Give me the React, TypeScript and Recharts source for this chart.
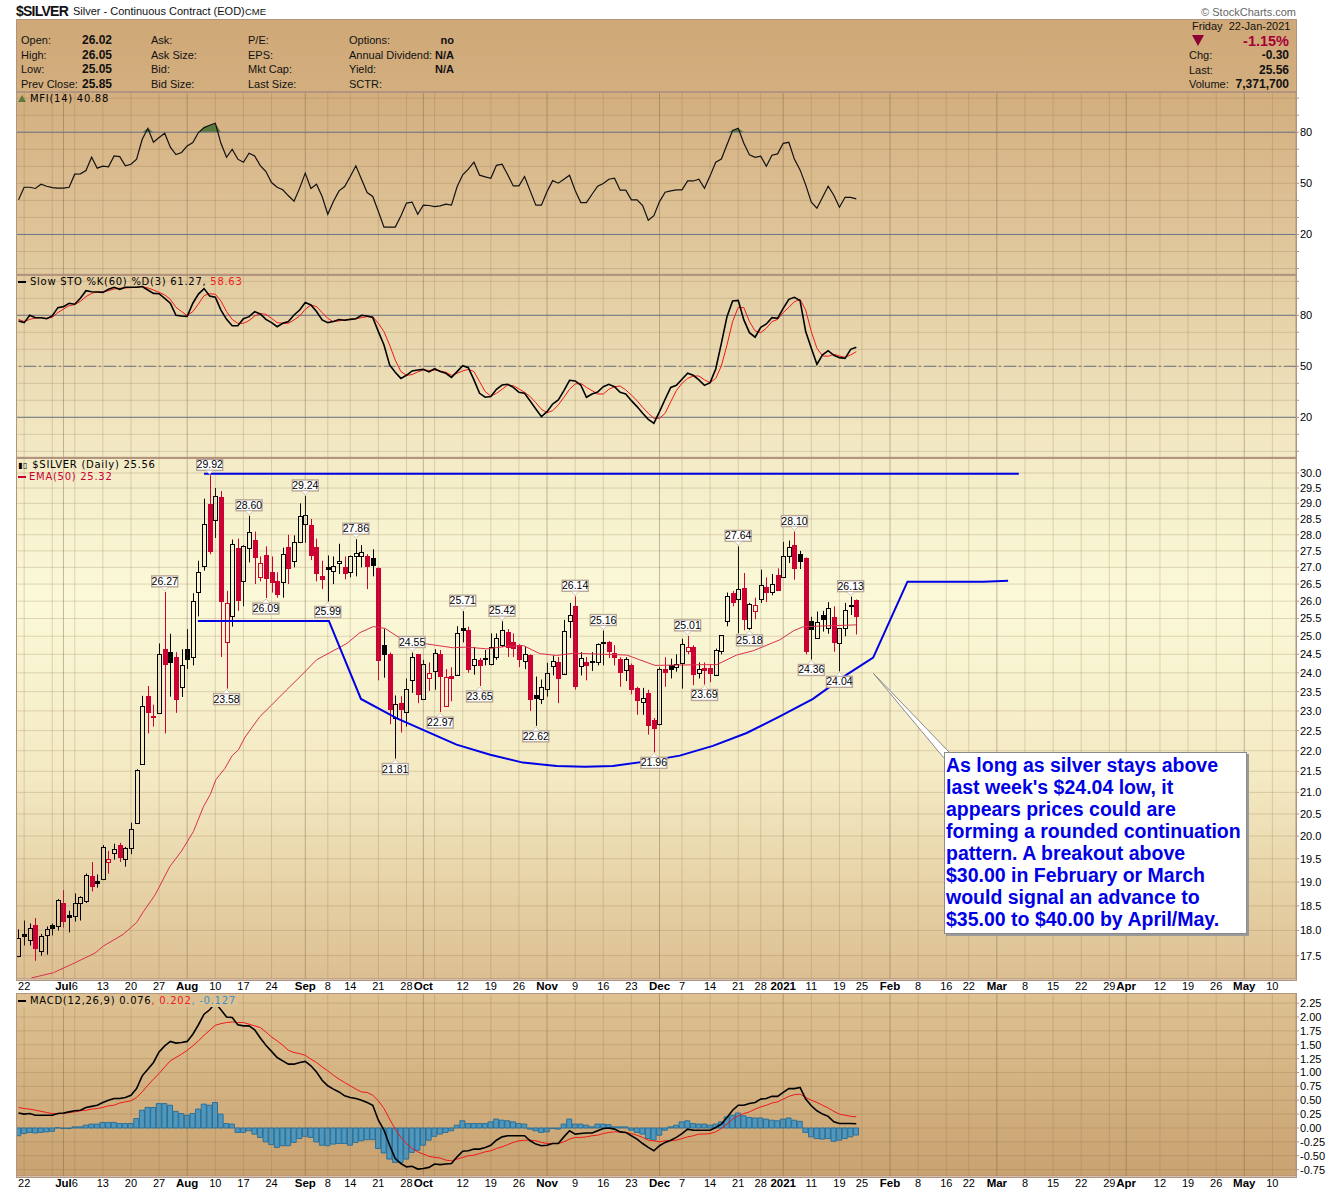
import { Bar, CartesianGrid, ComposedChart, Area, Line, ReferenceDot, ReferenceLine, XAxis, YAxis } from 'recharts'

const SANS = '"Liberation Sans", Arial, sans-serif'
const VERD = '"DejaVu Sans", Verdana, sans-serif'

// daily candles, one per trading day from 19-Jun-2020
const opens = [
  17.5, 17.93, 17.8, 18.1, 17.6, 17.9, 18.1, 18.08, 18.56, 18.32,
  18.3, 18.56, 18.6, 19.12, 19.02, 19.06, 19.42, 19.63, 19.8, 19.5,
  19.74, 20.3, 21.68, 23.38, 22.88, 22.94, 24.66, 24.56, 24.43, 23.62,
  24.64, 24.43, 26.27, 27.05, 28.98, 28.46, 29.2, 24.83, 25.56, 27.6,
  26.6, 27.6, 27.85, 26.7, 27.36, 26.85, 26.6, 26.55, 27.62, 27.2,
  27.77, 28.35, 28.3, 27.62, 26.73, 27.0, 26.9, 27.13, 27.0, 26.85,
  27.33, 27.33, 27.33, 27.27, 26.98, 24.77, 24.5, 22.82, 23.2, 22.96,
  23.8, 24.5, 23.32, 23.85, 24.05, 24.5, 23.13, 23.92, 23.95, 25.22,
  25.17, 24.2, 24.35, 24.4, 24.25, 24.43, 24.75, 25.12, 24.83, 24.75,
  24.32, 24.47, 23.42, 23.32, 23.58, 24.17, 24.3, 23.98, 25.43, 25.85,
  24.17, 24.3, 24.33, 24.3, 24.85, 24.85, 24.55, 24.37, 24.07, 24.22,
  23.6, 23.22, 23.46, 22.76, 22.67, 24.1, 24.2, 24.15, 24.27, 24.6,
  24.7, 24.0, 24.12, 24.13, 23.95, 24.6, 25.43, 26.23, 26.05, 26.38,
  25.22, 25.72, 26.07, 26.4, 26.28, 26.77, 26.7, 27.33, 27.68, 27.4,
  27.27, 25.43, 24.95, 25.6, 25.22, 25.55, 24.8, 25.22, 25.9, 26.02,
]
const closes = [
  17.85, 17.88, 18.05, 17.65, 17.88, 18.02, 18.05, 18.62, 18.2, 18.28,
  18.56, 18.68, 19.14, 18.92, 18.98, 19.76, 19.5, 19.72, 19.53, 19.74,
  20.15, 21.53, 23.13, 22.96, 22.84, 24.5, 24.25, 24.28, 23.31, 24.2,
  24.38, 26.0, 26.85, 28.35, 27.5, 29.23, 26.0, 25.94, 27.7, 26.03,
  27.65, 28.08, 27.3, 27.13, 26.67, 26.55, 26.2, 27.4, 26.98, 27.77,
  28.6, 28.62, 27.36, 26.82, 26.64, 26.95, 27.03, 27.2, 26.82, 27.33,
  27.45, 27.47, 27.03, 27.07, 24.35, 24.5, 23.05, 23.17, 23.05, 23.56,
  24.42, 23.45, 24.25, 24.0, 24.55, 23.92, 23.9, 23.85, 25.1, 25.17,
  24.1, 24.38, 24.2, 24.36, 24.7, 24.95, 25.17, 24.7, 24.68, 24.38,
  24.5, 23.32, 23.34, 23.63, 24.0, 24.32, 23.85, 25.15, 25.6, 23.65,
  24.4, 24.22, 24.3, 24.78, 24.8, 24.6, 24.42, 24.02, 24.37, 23.58,
  23.28, 23.33, 22.65, 22.57, 24.1, 24.03, 24.1, 24.25, 24.78, 24.7,
  23.97, 24.1, 24.07, 24.0, 24.62, 25.03, 26.15, 25.97, 26.35, 25.48,
  25.92, 25.9, 26.48, 26.28, 26.5, 26.33, 27.35, 27.62, 26.98, 27.2,
  24.6, 25.2, 25.4, 25.5, 25.8, 24.83, 25.22, 25.75, 25.85, 25.56,
]
const highs = [
  18.02, 18.2, 18.14, 18.25, 17.93, 18.08, 18.14, 18.64, 18.83, 18.4,
  18.76, 18.7, 19.18, 19.43, 19.16, 19.8, 19.67, 19.83, 19.85, 19.76,
  20.3, 21.55, 23.39, 23.65, 23.16, 24.8, 26.27, 25.07, 24.56, 24.64,
  25.2, 26.23, 27.2, 29.15, 29.92, 29.5, 29.4, 26.3, 27.85, 27.88,
  27.68, 28.6, 28.1, 27.33, 27.64, 27.33, 26.85, 27.6, 28.0, 27.98,
  29.0, 29.24, 28.5, 27.88, 27.2, 27.36, 27.33, 27.72, 27.33, 27.36,
  27.86, 27.68, 27.4, 27.55, 27.0, 25.2, 24.55, 23.4, 23.38, 23.85,
  24.55, 24.5, 24.35, 24.28, 24.64, 24.62, 24.1, 24.15, 25.28, 25.71,
  25.27, 24.7, 24.4, 24.62, 25.08, 25.08, 25.42, 25.2, 25.08, 24.78,
  24.7, 24.5, 23.9, 23.82, 24.27, 24.47, 24.43, 25.46, 25.95, 26.14,
  24.56, 24.43, 24.56, 24.8, 25.16, 24.87, 24.75, 24.42, 24.42, 24.25,
  23.63, 23.6, 23.55, 22.82, 24.15, 24.42, 24.38, 24.5, 24.93, 25.01,
  24.75, 24.28, 24.28, 24.22, 24.66, 25.03, 26.25, 26.3, 27.64, 26.83,
  25.95, 26.1, 26.93, 26.7, 26.8, 26.97, 27.78, 27.82, 28.1, 27.5,
  27.3, 25.55, 25.7, 25.72, 25.97, 25.85, 25.23, 25.95, 26.13, 26.05,
]
const lows = [
  17.47, 17.7, 17.7, 17.4, 17.5, 17.52, 17.9, 18.0, 18.06, 17.96,
  18.18, 18.2, 18.56, 18.8, 18.88, 19.04, 19.18, 19.48, 19.43, 19.33,
  19.6, 20.28, 21.66, 22.43, 22.6, 22.92, 22.43, 23.37, 22.95, 23.36,
  24.1, 24.2, 25.56, 26.9, 27.4, 27.9, 24.43, 23.58, 25.27, 25.72,
  25.85, 27.15, 26.5, 26.58, 26.09, 26.25, 26.1, 26.1, 26.5, 27.0,
  27.74, 27.75, 27.22, 26.58, 26.35, 25.99, 26.5, 26.8, 26.64, 26.7,
  26.73, 27.0, 26.35, 26.73, 23.8, 23.87, 22.66, 21.81, 22.45, 22.6,
  23.47, 23.2, 23.3, 23.52, 23.55, 22.97, 23.13, 23.25, 23.95, 24.83,
  24.0, 23.95, 23.65, 24.2, 24.2, 24.35, 24.7, 24.43, 24.43, 24.15,
  24.1, 23.0, 22.62, 23.18, 23.37, 23.93, 23.2, 23.98, 24.95, 23.55,
  23.93, 23.8, 24.05, 24.2, 24.2, 24.4, 24.2, 23.63, 23.78, 23.43,
  22.9, 22.9, 22.4, 21.96, 22.63, 23.63, 23.85, 24.03, 23.58, 24.5,
  23.67, 23.85, 23.69, 23.75, 23.95, 24.5, 25.28, 25.85, 25.08, 25.17,
  25.18, 25.48, 25.95, 25.97, 26.17, 26.32, 26.68, 27.13, 26.63, 26.95,
  24.5, 24.36, 24.95, 25.13, 25.07, 24.57, 24.04, 25.0, 25.6, 25.05,
]

const mfi = [
  40.3, 47.7, 47.7, 47.0, 49.5, 48.3, 47.5, 47.2, 47.2, 47.7,
  55.4, 55.6, 57.5, 65.3, 58.9, 60.1, 59.7, 66.1, 65.7, 60.3,
  61.2, 64.2, 75.9, 82.3, 74.1, 76.9, 79.4, 71.2, 66.9, 68.1,
  72.0, 73.9, 79.8, 82.7, 84.1, 85.3, 73.5, 65.3, 70.0, 64.2,
  62.4, 67.7, 66.1, 60.4, 56.9, 50.5, 47.7, 46.2, 42.7, 39.5,
  47.2, 56.0, 47.0, 49.5, 42.3, 31.9, 39.3, 45.6, 48.1, 54.0,
  60.3, 52.4, 44.6, 42.3, 33.5, 24.3, 24.3, 24.3, 30.9, 38.4,
  39.0, 31.9, 37.2, 37.0, 36.4, 36.8, 37.8, 37.2, 48.0, 55.0,
  58.3, 62.4, 54.8, 53.8, 53.0, 60.6, 61.2, 55.0, 48.5, 48.5,
  54.0, 45.6, 37.2, 37.2, 45.2, 51.6, 50.1, 52.4, 54.8, 45.8,
  38.7, 38.7, 43.6, 48.3, 49.9, 52.4, 53.0, 46.0, 46.0, 40.3,
  40.3, 37.0, 28.4, 31.0, 39.3, 44.8, 45.6, 46.2, 46.2, 51.4,
  51.4, 52.4, 47.1, 54.4, 62.4, 64.3, 72.6, 81.0, 82.3, 73.5,
  66.7, 65.3, 65.9, 60.0, 66.5, 67.3, 73.5, 74.1, 64.1, 57.9,
  49.1, 38.9, 35.4, 41.8, 48.3, 43.0, 36.0, 41.8, 41.8, 40.88,
]
const stoK = [
  76.7, 75.7, 80, 78.6, 78.6, 78, 79.6, 84.5, 85.1, 87.1,
  86.5, 90, 94.5, 93.9, 93.7, 93.5, 95.3, 96.5, 95.3, 96.5,
  96.5, 96.5, 96.9, 94.9, 92.9, 92.7, 90, 87.1, 80, 79.6,
  79.4, 87.1, 92.5, 95.7, 91.4, 90.6, 83.1, 77.6, 73.9, 73.9,
  78, 79.2, 82.2, 80.8, 77.6, 75.7, 73.3, 75.3, 76.3, 80.2,
  83.1, 87.5, 86.1, 82.2, 77.3, 75.7, 76.3, 77.5, 77.1, 77.6,
  78, 80, 79.6, 78.8, 70.4, 62.5, 50.8, 46.5, 42.9, 44.7,
  47.3, 47.8, 48.2, 46.7, 48.6, 46.9, 45.9, 43.5, 46.9, 50.4,
  49.2, 42, 34.1, 31.8, 32.2, 36.5, 39, 39.4, 37.6, 34.7,
  34.1, 29.6, 24.9, 20.4, 23.3, 27.8, 30.2, 35.7, 41.8, 41.4,
  39, 31.8, 33.7, 34.9, 38, 39.4, 38, 34.7, 33.7, 29.8,
  26.3, 22.4, 18.8, 16.5, 23.3, 30.6, 37.6, 38.8, 42.4, 45.9,
  44.7, 42, 38.8, 40.4, 48.4, 63.5, 79.2, 88.4, 88.8, 77.3,
  69.8, 67.1, 72.9, 74.9, 78.6, 78.2, 84.1, 89.4, 90.6, 88.6,
  70.4, 60.6, 51.2, 56.7, 59.2, 56.5, 55.1, 54.7, 60, 61.27,
]
const stoD = [
  77.6, 76.3, 77.6, 78.4, 78.6, 78.2, 78.8, 81.6, 83.7, 85.7,
  86.3, 88.2, 91, 92.9, 93.9, 93.7, 94.5, 95.5, 95.9, 96.1,
  96.3, 96.5, 96.9, 96.1, 94.9, 93.5, 92, 89.4, 84.7, 82.2,
  79.8, 82.2, 86.7, 91.6, 92.7, 92.4, 88.4, 82.2, 77.6, 75.3,
  75.3, 76.9, 79.6, 81, 80.6, 78.2, 75.7, 75.3, 75.3, 77.3,
  79.6, 83.5, 86.1, 85.1, 81.6, 78.2, 76.3, 76.7, 77.3, 77.6,
  78, 78.6, 79.2, 79.2, 75.3, 70.4, 62.5, 53.7, 46.9, 44.7,
  45.1, 46.7, 47.8, 47.6, 47.8, 47.3, 46.5, 44.7, 45.9, 47.3,
  48.2, 46.9, 41, 35.1, 32.5, 34.1, 36.5, 39, 38.6, 36.7,
  34.7, 32.2, 28.6, 24.7, 22.7, 23.9, 27.3, 31.8, 36.5, 39.6,
  40, 37.6, 35.7, 33.7, 33.7, 36.5, 38, 38.4, 36.1, 33.1,
  29.8, 25.9, 22.4, 19.4, 19.4, 22.4, 29.2, 35.7, 40, 42.9,
  44.3, 44.3, 42, 40.4, 42.9, 50.2, 62.5, 76.3, 84.7, 84.5,
  76.3, 70.8, 69.8, 72.4, 76.3, 77.6, 81.6, 84.7, 88, 89.4,
  83.1, 70.4, 60.6, 56.1, 55.9, 57.1, 56.1, 55.3, 56.7, 58.63,
]
const macd = [
  0.27, 0.25, 0.26, 0.23, 0.23, 0.23, 0.23, 0.26, 0.27, 0.29,
  0.31, 0.32, 0.37, 0.39, 0.41, 0.46, 0.5, 0.53, 0.53, 0.55,
  0.59, 0.71, 0.94, 1.06, 1.18, 1.37, 1.48, 1.56, 1.53, 1.54,
  1.56, 1.69, 1.86, 2.05, 2.13, 2.25, 2.13, 2.0, 1.99, 1.86,
  1.84, 1.84, 1.77, 1.62, 1.49, 1.38, 1.27, 1.21, 1.15, 1.15,
  1.18, 1.2, 1.12, 1.01, 0.86, 0.76, 0.7, 0.65, 0.58, 0.55,
  0.53, 0.5, 0.46, 0.41, 0.14, -0.04, -0.31, -0.55, -0.64, -0.7,
  -0.69, -0.74, -0.73, -0.71, -0.65, -0.66, -0.65, -0.64, -0.52, -0.42,
  -0.41, -0.38, -0.38, -0.35, -0.31, -0.22, -0.16, -0.14, -0.14, -0.14,
  -0.14, -0.23, -0.29, -0.32, -0.31, -0.28, -0.28, -0.16, -0.05, -0.11,
  -0.1, -0.09, -0.09, -0.05, -0.01, 0, -0.02, -0.07, -0.08, -0.14,
  -0.2, -0.28, -0.35, -0.41, -0.32, -0.26, -0.22, -0.17, -0.1, -0.02,
  -0.04, -0.04, -0.04, -0.04, 0.01, 0.07, 0.19, 0.32, 0.41, 0.41,
  0.44, 0.46, 0.52, 0.53, 0.57, 0.57, 0.64, 0.71, 0.71, 0.73,
  0.52, 0.4, 0.31, 0.25, 0.21, 0.11, 0.08, 0.08, 0.08, 0.076,
]
const macdSignal = [
  0.37, 0.35, 0.34, 0.32, 0.3, 0.28, 0.26, 0.26, 0.26, 0.28,
  0.29, 0.31, 0.32, 0.34, 0.35, 0.37, 0.4, 0.41, 0.45, 0.47,
  0.49, 0.55, 0.65, 0.77, 0.88, 0.98, 1.1, 1.21, 1.27, 1.33,
  1.4, 1.48, 1.57, 1.67, 1.76, 1.85, 1.88, 1.9, 1.91, 1.9,
  1.9, 1.87, 1.84, 1.81, 1.73, 1.64, 1.57, 1.49, 1.4, 1.36,
  1.34, 1.31, 1.24, 1.18, 1.1, 1.03, 0.95, 0.88, 0.82, 0.76,
  0.7, 0.65, 0.64, 0.59, 0.49, 0.35, 0.16, -0.02, -0.17, -0.28,
  -0.37, -0.43, -0.47, -0.51, -0.53, -0.54, -0.58, -0.59, -0.56, -0.53,
  -0.5, -0.49, -0.46, -0.43, -0.41, -0.37, -0.34, -0.3, -0.26, -0.23,
  -0.22, -0.22, -0.23, -0.26, -0.28, -0.28, -0.28, -0.25, -0.2, -0.17,
  -0.17, -0.16, -0.14, -0.13, -0.1, -0.08, -0.07, -0.07, -0.08, -0.1,
  -0.13, -0.17, -0.22, -0.23, -0.25, -0.23, -0.23, -0.22, -0.19, -0.16,
  -0.14, -0.11, -0.11, -0.1, -0.07, -0.01, 0.07, 0.16, 0.22, 0.26,
  0.29, 0.34, 0.38, 0.41, 0.45, 0.47, 0.52, 0.57, 0.6, 0.61,
  0.55, 0.5, 0.46, 0.41, 0.36, 0.3, 0.25, 0.23, 0.21, 0.202,
]
const macdHist = [
  -0.14, -0.1, -0.08, -0.09, -0.08, -0.07, -0.06, 0.005, -0.01, -0.01,
  0.02, 0.02, 0.05, 0.07, 0.07, 0.1, 0.1, 0.1, 0.08, 0.08,
  0.08, 0.17, 0.32, 0.37, 0.37, 0.44, 0.44, 0.41, 0.3, 0.26,
  0.23, 0.26, 0.34, 0.43, 0.41, 0.46, 0.25, 0.08, 0.07, -0.08,
  -0.08, -0.05, -0.11, -0.17, -0.25, -0.3, -0.35, -0.32, -0.32, -0.26,
  -0.19, -0.15, -0.17, -0.25, -0.31, -0.32, -0.29, -0.28, -0.28, -0.31,
  -0.26, -0.23, -0.21, -0.21, -0.37, -0.45, -0.56, -0.62, -0.62, -0.56,
  -0.44, -0.4, -0.31, -0.22, -0.15, -0.11, -0.08, -0.05, 0.05, 0.13,
  0.08, 0.08, 0.08, 0.08, 0.11, 0.16, 0.14, 0.13, 0.11, 0.08,
  0.07, -0.02, -0.05, -0.08, -0.07, -0.01, -0.02, 0.07, 0.16, 0.07,
  0.07, 0.05, 0.02, 0.07, 0.07, 0.06, 0.02, 0.02, 0.02, -0.04,
  -0.08, -0.11, -0.19, -0.22, -0.13, -0.04, 0.02, 0.05, 0.11, 0.13,
  0.08, 0.07, 0.07, 0.05, 0.07, 0.11, 0.2, 0.23, 0.27, 0.22,
  0.19, 0.18, 0.18, 0.16, 0.14, 0.13, 0.16, 0.18, 0.14, 0.12,
  -0.08, -0.16, -0.19, -0.2, -0.19, -0.24, -0.22, -0.19, -0.16, -0.127,
]

// EMA(50), read at the visible bends of the curve
const emaBars = [
  2.3, 6.2, 10, 13.6, 15.1, 18.6, 21, 22.2, 24.3, 26.9, 29, 31.1, 32.9, 34.1, 35.1, 36.7, 38, 39.1, 40.3, 42.9,
  45, 47.7, 50.1, 53, 55.4, 58.4, 60.7, 63.1, 65.2, 67.8, 72, 77.3, 79.7, 83.3, 86.8, 89.8, 92.7, 95.7, 98.7,
  108.2, 110.5, 113.2, 122.4, 124.2, 127.7, 130.7, 135.4, 137.8, 139.6, 149,
]
const emaValues = [
  17.07, 17.17, 17.36, 17.55, 17.69, 17.92, 18.16, 18.38, 18.73, 19.33, 19.67, 20.1, 20.67, 20.95, 21.3, 21.57, 21.88, 22.02, 22.34, 22.85,
  23.15, 23.55, 23.9, 24.35, 24.55, 24.8, 25.1, 25.27, 25.22, 24.95, 24.8, 24.68, 24.7, 24.65, 24.72, 24.74, 24.52, 24.47, 24.53,
  24.48, 24.35, 24.2, 24.22, 24.22, 24.48, 24.6, 24.9, 25.15, 25.27, 25.32,
]

// hand drawn annotations on the price panel
const resistanceBars = [33, 177.9]
const resistanceValues = [29.97, 29.97]
const bowlBars = [31.9, 55.2, 60.9, 67.3, 77.9, 83.9, 89.7, 95.7, 100.7, 105.7, 111.7, 117.6, 123.5, 129.5, 135.4, 141.3, 147.3, 152, 158.1, 171.6, 176]
const bowlValues = [25.43, 25.43, 23.31, 22.81, 22.15, 21.9, 21.71, 21.63, 21.61, 21.63, 21.74, 21.88, 22.12, 22.44, 22.86, 23.31, 23.95, 24.41, 26.57, 26.57, 26.6]

const tagsAbove = [
  [26, 26.27], [34, 29.92], [41, 28.6], [51, 29.24], [60, 27.86], [70, 24.55], [79, 25.71],
  [86, 25.42], [99, 26.14], [104, 25.16], [119, 25.01], [128, 27.64], [138, 28.1], [148, 26.13],
]
const tagsBelow = [
  [37, 23.58], [44, 26.09], [55, 25.99], [67, 21.81], [75, 22.97], [82, 23.65], [92, 22.62],
  [113, 21.96], [122, 23.69], [130, 25.18], [141, 24.36], [146, 24.04],
]

// x axis: bar number of each label, future bars run on to May
const tickBars = [1, 8, 10, 15, 20, 25, 30, 35, 40, 45, 51, 55, 59, 64, 69, 72, 79, 84, 89, 94, 99, 104, 109, 114, 118, 123, 128, 132, 136, 141, 146, 150, 155, 160, 165, 169, 174, 179, 184, 189, 194, 197, 203, 208, 213, 218, 223]
const tickNames = ['22', 'Jul', '6', '13', '20', '27', 'Aug', '10', '17', '24', 'Sep', '8', '14', '21', '28', 'Oct', '12', '19', '26', 'Nov', '9', '16', '23', 'Dec', '7', '14', '21', '28', '2021', '11', '19', '25', 'Feb', '8', '16', '22', 'Mar', '8', '15', '22', '29', 'Apr', '12', '19', '26', 'May', '10']
const monthNames = ['Jul', 'Aug', 'Sep', 'Oct', 'Nov', 'Dec', '2021', 'Feb', 'Mar', 'Apr', 'May']
const weekGrid = [1, 6, 10, 15, 20, 25, 35, 40, 45, 55, 59, 64, 69, 74, 79, 84, 89, 99, 104, 109, 118, 123, 128, 132, 141, 146, 150, 160, 165, 169, 179, 184, 189, 194, 203, 208, 213, 223]
const monthGrid = [8, 30, 51, 72, 94, 114, 136, 155, 174, 197, 218]

const priceTicks = [17.5, 18, 18.5, 19, 19.5, 20, 20.5, 21, 21.5, 22, 22.5, 23, 23.5, 24, 24.5, 25, 25.5, 26, 26.5, 27, 27.5, 28, 28.5, 29, 29.5, 30]
const oscTicks = [0, 10, 20, 30, 40, 50, 60, 70, 80, 90, 100]
const macdTicks = [-0.75, -0.5, -0.25, 0, 0.25, 0.5, 0.75, 1, 1.25, 1.5, 1.75, 2, 2.25]

const quoteRows = [
  ['Open:', '26.02', 'Ask:', 'P/E:', 'Options:', 'no'],
  ['High:', '26.05', 'Ask Size:', 'EPS:', 'Annual Dividend:', 'N/A'],
  ['Low:', '25.05', 'Bid:', 'Mkt Cap:', 'Yield:', 'N/A'],
  ['Prev Close:', '25.85', 'Bid Size:', 'Last Size:', 'SCTR:', ''],
]
const lastRows = [
  ['Chg:', '-0.30'],
  ['Last:', '25.56'],
  ['Volume:', '7,371,700'],
]
const noteLines = [
  'As long as silver stays above',
  "last week's $24.04 low, it",
  'appears prices could are',
  'forming a rounded continuation',
  'pattern. A breakout above',
  '$30.00 in February or March',
  'would signal an advance to',
  '$35.00 to $40.00 by April/May.',
]

const rows = closes.map((close, i) => ({
  i, open: opens[i], high: highs[i], low: lows[i], close,
  prev: i > 0 ? closes[i - 1] : opens[i],
  mfi: mfi[i], k: stoK[i], d: stoD[i],
  macd: macd[i], signal: macdSignal[i], hist: macdHist[i],
}))
const emaData = emaBars.map((i, n) => ({ i, v: emaValues[n] }))
const resistanceData = resistanceBars.map((i, n) => ({ i, v: resistanceValues[n] }))
const bowlData = bowlBars.map((i, n) => ({ i, v: bowlValues[n] }))

const X_DOMAIN = [-0.27, 227.2]
const MARGIN = { top: 0, right: 0, bottom: 0, left: 17 }
const HLINE = 'rgba(140,105,70,0.24)'
const WEEK = 'rgba(140,105,70,0.24)'
const MONTH = 'rgba(110,85,60,0.38)'
const LEVEL = '#6f7684'
const BORDER = '#b3957f'
const RED = '#cc0033'

function Candle(props: any) {
  const { x, y, width, height, payload: d } = props
  const cx = Math.round(x + width / 2) + 0.5
  const span = Math.log(d.high) - Math.log(d.low) || 1
  const at = (p: number) => y + (height * (Math.log(d.high) - Math.log(p))) / span
  const top = Math.round(at(Math.max(d.open, d.close))) + 0.5
  const bot = Math.round(at(Math.min(d.open, d.close))) + 0.5
  const color = d.close >= d.prev ? '#000' : RED
  const hollow = d.close > d.open
  return (
    <g>
      <line x1={cx} x2={cx} y1={y} y2={top} stroke={color} strokeWidth={1} />
      <line x1={cx} x2={cx} y1={bot} y2={y + height} stroke={color} strokeWidth={1} />
      <rect x={cx - 2} y={top} width={4} height={Math.max(bot - top, 1)} fill={hollow ? 'none' : color} stroke={color} strokeWidth={1} />
    </g>
  )
}

function PriceTag({ cx, cy, text, below }: any) {
  const dir = below ? 1 : -1
  const tip = cy + dir * 1
  const edge = cy + dir * 5
  const mid = cy + dir * 10.5
  return (
    <g>
      <rect x={cx - 13} y={mid - 5.5} width={26} height={11} fill="#fff" stroke="#b9a897" strokeWidth={1.4} />
      <path d={`M${cx - 4} ${edge}L${cx} ${tip}L${cx + 4} ${edge}Z`} fill="#fff" stroke="#b9a897" strokeWidth={0.6} />
      <text x={cx} y={mid + 3.5} textAnchor="middle" fontSize={10.5} fontFamily={SANS} fill="#000">{text}</text>
    </g>
  )
}

function DateTick({ x, y, payload }: any) {
  const name = tickNames[tickBars.indexOf(payload.value)]
  return (
    <text x={x} y={y + 11} textAnchor="middle" fontSize={monthNames.includes(name) ? 11.5 : 11} fontWeight={monthNames.includes(name) ? 700 : 400} fontFamily={SANS} fill="#000">
      {name}
    </text>
  )
}

function verticals() {
  return [
    ...weekGrid.map((x) => <ReferenceLine key={`w${x}`} x={x} stroke={WEEK} />),
    ...monthGrid.map((x) => <ReferenceLine key={`m${x}`} x={x} stroke={MONTH} />),
  ]
}

const yTick = { fontSize: 11, fill: '#000', fontFamily: SANS }
const yLine = { stroke: BORDER }

function Legend({ top, children, bg }: any) {
  return (
    <div style={{ position: 'absolute', left: 18, top, height: 12, lineHeight: '12px', whiteSpace: 'pre', fontFamily: VERD, fontSize: 10, letterSpacing: 0.72, color: '#000', background: bg, paddingRight: 2 }}>
      {children}
    </div>
  )
}

function Text({ x, y, right, bold, size = 11, color = '#111', spacing = 0, children }: any) {
  const pos = right !== undefined ? { right: 1340 - right } : { left: x }
  return (
    <div style={{ position: 'absolute', ...pos, top: y - 7, lineHeight: '14px', whiteSpace: 'pre', fontFamily: SANS, fontSize: size, fontWeight: bold ? 700 : 400, color, letterSpacing: spacing }}>
      {children}
    </div>
  )
}

export default function App() {
  return (
    <div style={{ position: 'absolute', left: 0, top: 0, width: 1340, height: 1192, background: '#fff', overflow: 'hidden' }}>
      {/* page shading behind the panels */}
      <div style={{ position: 'absolute', left: 17, top: 19, width: 1279, height: 960, background: 'linear-gradient(#cfa877 0px, #d3ae7e 72px, #e2cba0 255px, #f3ebc6 438px, #fbf9d8 580px, #f3e9c2 760px, #dcbf90 960px)' }} />
      <div style={{ position: 'absolute', left: 17, top: 993, width: 1279, height: 183, background: 'linear-gradient(#dec292, #c9a271)' }} />

      <ComposedChart style={{ position: 'absolute', left: 0, top: 91 }} width={1340} height={183} data={rows} margin={MARGIN}>
        <CartesianGrid vertical={false} stroke={HLINE} />
        {verticals()}
        <XAxis hide type="number" dataKey="i" domain={X_DOMAIN} allowDataOverflow />
        <YAxis orientation="right" width={44} domain={[-3.2, 104.2]} ticks={oscTicks} interval={0} allowDataOverflow tick={yTick} tickLine={yLine} axisLine={yLine} tickSize={3} tickMargin={1}
          tickFormatter={(v: number) => ([20, 50, 80].includes(v) ? String(v) : '')} />
        <ReferenceLine y={80} stroke={LEVEL} strokeWidth={1} />
        <ReferenceLine y={20} stroke={LEVEL} strokeWidth={1} />
        <Area dataKey={(d: any) => [80, Math.max(80, d.mfi)]} type="linear" fill="#5c7a3d" fillOpacity={1} stroke="none" dot={false} activeDot={false} isAnimationActive={false} />
        <Line dataKey="mfi" type="linear" stroke="#111" strokeWidth={1.2} dot={false} activeDot={false} isAnimationActive={false} />
      </ComposedChart>

      <ComposedChart style={{ position: 'absolute', left: 0, top: 274 }} width={1340} height={183} data={rows} margin={MARGIN}>
        <CartesianGrid vertical={false} stroke={HLINE} />
        {verticals()}
        <XAxis hide type="number" dataKey="i" domain={X_DOMAIN} allowDataOverflow />
        <YAxis orientation="right" width={44} domain={[-3.35, 104.3]} ticks={oscTicks} interval={0} allowDataOverflow tick={yTick} tickLine={yLine} axisLine={yLine} tickSize={3} tickMargin={1}
          tickFormatter={(v: number) => ([20, 50, 80].includes(v) ? String(v) : '')} />
        <ReferenceLine y={80} stroke={LEVEL} />
        <ReferenceLine y={50} stroke={LEVEL} strokeDasharray="12 3 2 3" />
        <ReferenceLine y={20} stroke={LEVEL} />
        <Line dataKey="d" type="linear" stroke="#f01818" strokeWidth={1} dot={false} activeDot={false} isAnimationActive={false} />
        <Line dataKey="k" type="linear" stroke="#000" strokeWidth={1.6} dot={false} activeDot={false} isAnimationActive={false} />
      </ComposedChart>

      <ComposedChart style={{ position: 'absolute', left: 0, top: 457 }} width={1340} height={536} data={rows} margin={MARGIN}>
        <CartesianGrid vertical={false} stroke={HLINE} />
        {verticals()}
        <XAxis type="number" dataKey="i" domain={X_DOMAIN} allowDataOverflow ticks={tickBars} interval={0} height={14} tick={DateTick} tickLine={false} tickSize={0} tickMargin={0} axisLine={{ stroke: BORDER }} />
        <YAxis orientation="right" width={44} scale="log" domain={[17.05, 30.54]} ticks={priceTicks} interval={0} allowDataOverflow tick={yTick} tickLine={yLine} axisLine={yLine} tickSize={3} tickMargin={1}
          tickFormatter={(v: number) => v.toFixed(1)} />
        <Line data={emaData} dataKey="v" type="linear" stroke="#d9304f" strokeWidth={1} dot={false} activeDot={false} isAnimationActive={false} />
        <Bar dataKey={(d: any) => [d.low, d.high]} barSize={5} shape={Candle} isAnimationActive={false} />
        <Line data={resistanceData} dataKey="v" type="linear" stroke="#0000e6" strokeWidth={2} dot={false} activeDot={false} isAnimationActive={false} />
        <Line data={bowlData} dataKey="v" type="linear" stroke="#0000e6" strokeWidth={2} dot={false} activeDot={false} isAnimationActive={false} />
        {tagsAbove.map(([i, v]) => (
          <ReferenceDot key={`a${i}`} x={i} y={v} shape={(p: any) => <PriceTag {...p} text={v.toFixed(2)} />} />
        ))}
        {tagsBelow.map(([i, v]) => (
          <ReferenceDot key={`b${i}`} x={i} y={v} shape={(p: any) => <PriceTag {...p} text={v.toFixed(2)} below />} />
        ))}
      </ComposedChart>

      <ComposedChart style={{ position: 'absolute', left: 0, top: 993 }} width={1340} height={198} data={rows} margin={MARGIN}>
        <CartesianGrid vertical={false} stroke={HLINE} />
        {verticals()}
        <XAxis type="number" dataKey="i" domain={X_DOMAIN} allowDataOverflow ticks={tickBars} interval={0} height={15} tick={DateTick} tickLine={false} tickSize={0} tickMargin={0} axisLine={{ stroke: BORDER }} />
        <YAxis orientation="right" width={44} domain={[-0.865, 2.432]} ticks={macdTicks} interval={0} allowDataOverflow tick={yTick} tickLine={yLine} axisLine={yLine} tickSize={3} tickMargin={1}
          tickFormatter={(v: number) => v.toFixed(2)} />
        <Bar dataKey="hist" barSize={5} fill="#4f97bd" stroke="#2b7098" strokeWidth={1} isAnimationActive={false} />
        <Line dataKey="signal" type="linear" stroke="#f01818" strokeWidth={1} dot={false} activeDot={false} isAnimationActive={false} />
        <Line dataKey="macd" type="linear" stroke="#000" strokeWidth={1.6} dot={false} activeDot={false} isAnimationActive={false} />
      </ComposedChart>

      {/* panel frames */}
      {[[19, 72], [91, 183], [274, 183], [457, 522], [993, 183]].map(([top, height]) => (
        <div key={top} style={{ position: 'absolute', left: 16, top, width: 1279, height, border: `1px solid ${BORDER}`, pointerEvents: 'none' }} />
      ))}

      {/* title line */}
      <Text x={16} y={11} bold size={14} spacing={-0.75}>$SILVER</Text>
      <Text x={73} y={11}>Silver - Continuous Contract (EOD)</Text>
      <Text x={245} y={12} size={9.5}>CME</Text>
      <Text right={1296} y={12} size={11} color="#666">{'\u00a9 StockCharts.com'}</Text>

      {/* quote block */}
      {quoteRows.map((r, n) => {
        const y = 40 + n * 14.6
        return (
          <div key={r[0]}>
            <Text x={21} y={y}>{r[0]}</Text>
            <Text x={82} y={y} bold size={12}>{r[1]}</Text>
            <Text x={151} y={y}>{r[2]}</Text>
            <Text x={248} y={y}>{r[3]}</Text>
            <Text x={349} y={y}>{r[4]}</Text>
            <Text right={454} y={y} bold>{r[5]}</Text>
          </div>
        )
      })}
      <Text x={1192} y={26}>{'Friday  22-Jan-2021'}</Text>
      <div style={{ position: 'absolute', left: 1192, top: 35, width: 0, height: 0, borderLeft: '6px solid transparent', borderRight: '6px solid transparent', borderTop: '11px solid #8e0038' }} />
      <Text right={1289} y={41} bold size={14.5} color="#a5003a">-1.15%</Text>
      {lastRows.map((r, n) => (
        <div key={r[0]}>
          <Text x={1189} y={55 + n * 14.5}>{r[0]}</Text>
          <Text right={1289} y={55 + n * 14.5} bold size={12}>{r[1]}</Text>
        </div>
      ))}

      {/* panel legends */}
      <Legend top={93}>
        <span style={{ display: 'inline-block', width: 0, height: 0, borderLeft: '4px solid transparent', borderRight: '4px solid transparent', borderBottom: '7px solid #5c7a3d', marginRight: 4 }} />
        {'MFI(14) 40.88'}
      </Legend>
      <Legend top={276}>
        <span style={{ display: 'inline-block', width: 8, height: 2, background: '#000', verticalAlign: 'middle', marginRight: 4 }} />
        {'Slow STO %K(60) %D(3) 61.27, '}<span style={{ color: '#f01818' }}>58.63</span>
      </Legend>
      <Legend top={459}>
        <span style={{ fontSize: 8, marginRight: 4 }}>{'\u25AE\u25AF'}</span>
        {'$SILVER (Daily) 25.56'}
      </Legend>
      <Legend top={471}>
        <span style={{ color: RED }}>
          <span style={{ display: 'inline-block', width: 8, height: 2, background: RED, verticalAlign: 'middle', marginRight: 3 }} />
          {'EMA(50) 25.32'}
        </span>
      </Legend>
      <Legend top={995} bg="#ddc091">
        <span style={{ display: 'inline-block', width: 8, height: 2, background: '#000', verticalAlign: 'middle', marginRight: 4 }} />
        {'MACD(12,26,9) 0.076'}<span style={{ color: '#f01818' }}>, 0.202</span><span style={{ color: '#3a93c8' }}>, -0.127</span>
      </Legend>

      {/* callout */}
      <svg style={{ position: 'absolute', left: 0, top: 0 }} width={1340} height={1192}>
        <path d="M873.5 673.5L949.5 752.5L943.5 757.5Z" fill="#fff" stroke="#8a8a8a" strokeWidth={1} />
      </svg>
      <div style={{ position: 'absolute', left: 944, top: 752, width: 301, height: 180, background: '#fff', border: '1px solid #8a8a8a', boxShadow: '2px 2px 0 #9a9a9a', boxSizing: 'content-box' }}>
        {noteLines.map((line, n) => (
          <div key={n} style={{ position: 'absolute', left: 1, top: 1 + n * 22, lineHeight: '22px', whiteSpace: 'pre', fontFamily: SANS, fontSize: 19.5, fontWeight: 700, color: '#0000e6' }}>
            {line}
          </div>
        ))}
      </div>
    </div>
  )
}
